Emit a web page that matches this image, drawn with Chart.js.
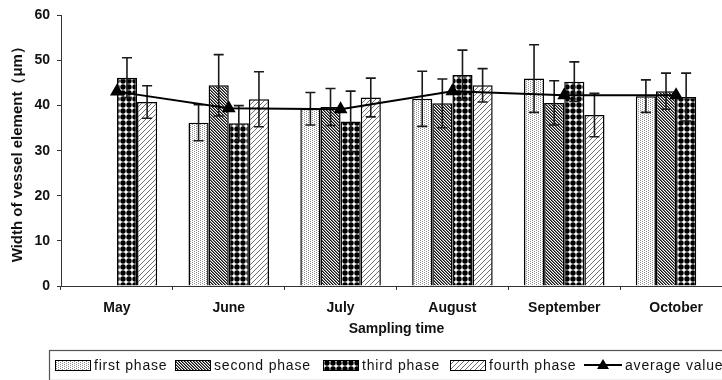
<!DOCTYPE html>
<html>
<head>
<meta charset="utf-8">
<script src="https://cdn.jsdelivr.net/npm/chart.js@4/dist/chart.umd.min.js"></script>
<style>
  html, body { margin: 0; padding: 0; background: #fff; overflow: hidden; }
  #wrap { width: 722px; height: 380px; overflow: hidden; position: relative; }
  canvas { display: block; }
</style>
</head>
<body>
<div id="wrap"><canvas id="chart" width="740" height="380"></canvas></div>
<script>
// Sampling months on the x axis
const months = ['May', 'June', 'July', 'August', 'September', 'October'];

// Mean vessel-element width (μm) per phase, with standard deviations
const firstPhase  = [null, 36.2, 39.3, 41.5, 46.0, 42.1];
const firstErr    = [null,  4.0,  3.6,  6.1,  7.5,  3.6];
const secondPhase = [null, 44.5, 39.7, 40.5, 40.6, 43.2];
const secondErr   = [null,  6.8,  4.1,  5.4,  4.9,  4.0];
const thirdPhase  = [46.2, 36.1, 36.5, 46.8, 45.3, 41.9];
const thirdErr    = [ 4.4,  3.9,  6.7,  5.5,  4.4,  5.3];
const fourthPhase = [40.8, 41.4, 41.8, 44.5, 37.9, null];
const fourthErr   = [ 3.6,  6.1,  4.3,  3.7,  4.8, null];
const averageValue = [43.1, 39.4, 39.2, 43.2, 42.3, 42.3];

// y axis range and tick step
const yMin = 0, yMax = 60, yStep = 10;

const canvas = document.getElementById('chart');
const mainCtx = canvas.getContext('2d');

function makePattern(size, draw) {
  const t = document.createElement('canvas');
  t.width = t.height = size;
  const g = t.getContext('2d');
  g.fillStyle = '#fff';
  g.fillRect(0, 0, size, size);
  draw(g, size);
  return mainCtx.createPattern(t, 'repeat');
}

// fine grey stipple
const dotsPattern = makePattern(4, (g) => {
  g.fillStyle = '#8c8c8c';
  g.fillRect(0, 0, 1, 1);
  g.fillRect(2, 1, 1, 1);
  g.fillRect(0, 2, 1, 1);
  g.fillRect(2, 3, 1, 1);
});
// dense dark diagonal hatch
const darkHatch = makePattern(3, (g, s) => {
  for (let x = 0; x < s; x++) {
    g.fillStyle = '#111';
    g.fillRect(x, x, 1, 1);
    g.fillStyle = '#777';
    g.fillRect((x + 1) % s, x, 1, 1);
  }
});
// black dot grid
const dotGrid = makePattern(6, (g) => {
  g.fillStyle = '#000';
  g.beginPath();
  g.arc(3, 3, 2.7, 0, Math.PI * 2);
  g.fill();
});
// light forward diagonal hatch
const lightHatch = makePattern(5, (g, s) => {
  g.fillStyle = '#707070';
  for (let x = 0; x < s; x++) g.fillRect(x, s - 1 - x, 1, 1);
});

const errors = [firstErr, secondErr, thirdErr, fourthErr];

// vertical error bars with caps, drawn right after each bar dataset
const errorBars = {
  id: 'errorBars',
  afterDatasetDraw(chart, args) {
    const ds = chart.data.datasets[args.index];
    if (ds.type === 'line') return;
    const errs = errors[args.index];
    const y = chart.scales.y;
    const c = chart.ctx;
    c.save();
    c.strokeStyle = '#1a1a1a';
    c.lineWidth = 1.6;
    args.meta.data.forEach((el, i) => {
      const v = ds.data[i];
      if (v == null || errs[i] == null) return;
      const x = el.x;
      const yt = y.getPixelForValue(v + errs[i]);
      const yb = y.getPixelForValue(v - errs[i]);
      c.beginPath();
      c.moveTo(x, yt); c.lineTo(x, yb);
      c.moveTo(x - 5, yt); c.lineTo(x + 5, yt);
      c.moveTo(x - 5, yb); c.lineTo(x + 5, yb);
      c.stroke();
    });
    c.restore();
  }
};

// boxed legend along the bottom edge
const boxLegend = {
  id: 'boxLegend',
  afterDraw(chart) {
    const c = chart.ctx;
    const top = 350, bottom = 380, left = 49, right = 738;
    const cy = 365;
    c.save();
    c.strokeStyle = '#555';
    c.lineWidth = 1.2;
    c.strokeRect(left + 0.5, top + 0.5, right - left, bottom - top);
    c.font = '14px "Liberation Sans", Arial, sans-serif';
    c.letterSpacing = '0.8px';
    c.fillStyle = '#111';
    c.textBaseline = 'middle';
    const swatchX = [55, 175, 323, 450];
    const bars = chart.data.datasets.filter(d => d.type !== 'line');
    bars.forEach((d, i) => {
      const x = swatchX[i];
      c.fillStyle = d.backgroundColor;
      c.fillRect(x, cy - 5, 35, 10);
      c.strokeStyle = '#000';
      c.lineWidth = 1;
      c.strokeRect(x + 0.5, cy - 5 + 0.5, 35, 10);
      c.fillStyle = '#111';
      c.fillText(d.label, x + 39, cy + 1);
    });
    const line = chart.data.datasets.find(d => d.type === 'line');
    c.strokeStyle = '#000';
    c.lineWidth = 2;
    c.beginPath();
    c.moveTo(584, cy); c.lineTo(622, cy);
    c.stroke();
    c.fillStyle = '#000';
    c.beginPath();
    c.moveTo(603, cy - 6); c.lineTo(609, cy + 4); c.lineTo(597, cy + 4);
    c.closePath();
    c.fill();
    c.fillStyle = '#111';
    c.fillText(line.label, 625, cy + 1);
    c.restore();
  }
};

const barCommon = {
  type: 'bar',
  borderColor: '#000',
  borderWidth: 1.5,
  categoryPercentage: 0.72,
  barPercentage: 1.0
};

const boldFont = (size) => ({ family: '"Liberation Sans", Arial, sans-serif', size, weight: 'bold' });

new Chart(canvas, {
  data: {
    labels: months,
    datasets: [
      Object.assign({}, barCommon, { label: 'first phase', data: firstPhase, backgroundColor: dotsPattern }),
      Object.assign({}, barCommon, { label: 'second phase', data: secondPhase, backgroundColor: darkHatch }),
      Object.assign({}, barCommon, { label: 'third phase', data: thirdPhase, backgroundColor: dotGrid }),
      Object.assign({}, barCommon, { label: 'fourth phase', data: fourthPhase, backgroundColor: lightHatch }),
      {
        type: 'line',
        label: 'average value',
        data: averageValue,
        order: -1,
        borderColor: '#000',
        borderWidth: 2,
        backgroundColor: '#000',
        pointStyle: 'triangle',
        pointRadius: 6,
        pointBackgroundColor: '#000',
        pointBorderColor: '#000',
        tension: 0,
        fill: false
      }
    ]
  },
  options: {
    responsive: false,
    animation: false,
    layout: { padding: { left: 0, top: 14, right: 7, bottom: 35 } },
    plugins: {
      legend: { display: false },
      tooltip: { enabled: false }
    },
    scales: {
      x: {
        grid: { display: true, drawOnChartArea: false, tickLength: 4, color: '#333', offset: true },
        border: { color: '#333', width: 1 },
        ticks: { color: '#111', font: boldFont(14), padding: 10, maxRotation: 0 },
        title: { display: true, text: 'Sampling time', color: '#111', font: boldFont(14), padding: { top: 0, bottom: 7 } },
        afterFit(scale) { scale.height = 59; }
      },
      y: {
        min: yMin,
        max: yMax,
        grid: { display: true, drawOnChartArea: false, tickLength: 4, color: '#333' },
        border: { color: '#333', width: 1 },
        ticks: { stepSize: yStep, color: '#111', font: boldFont(14), padding: 7 },
        title: { display: true, text: 'Width of vessel element（μm）', color: '#111', font: boldFont(15), padding: { top: 9, bottom: 0 } },
        afterFit(scale) { scale.width = 61; }
      }
    }
  },
  plugins: [errorBars, boxLegend]
});
</script>
</body>
</html>
